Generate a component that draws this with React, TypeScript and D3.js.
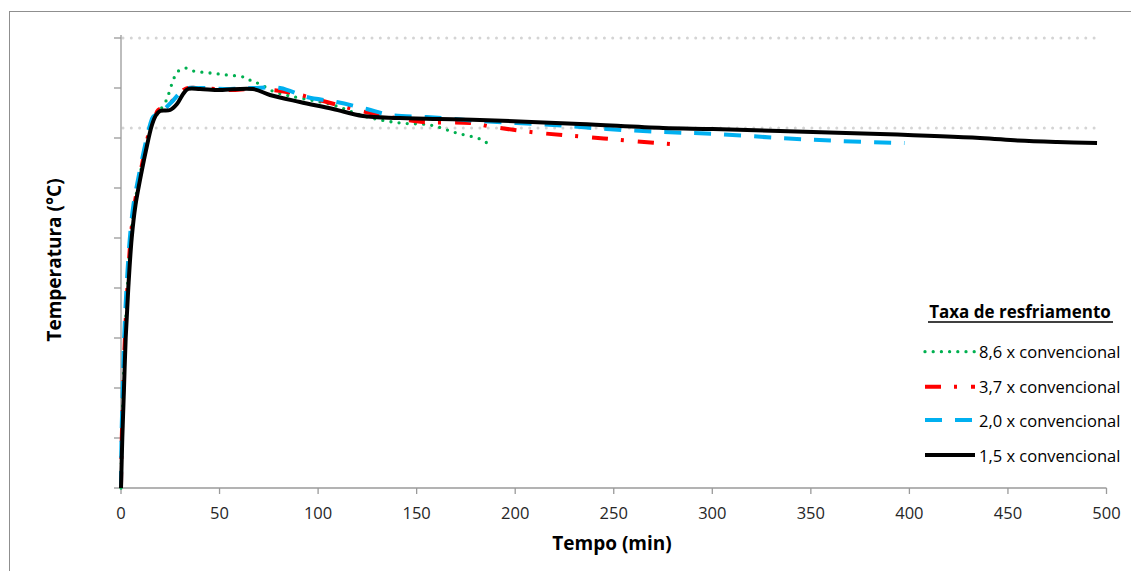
import React from 'react';
import * as d3 from 'd3';

// ---- data ----
const xTicks = [0, 50, 100, 150, 200, 250, 300, 350, 400, 450, 500];
const yTicks = [0, 5, 10, 15, 20, 25, 30, 35, 40, 45];
const refLevels = [45, 36];
const refSpan = [0, 495];

const legendTitle = 'Taxa de resfriamento';
const seriesNames = ['8,6 x convencional', '3,7 x convencional', '2,0 x convencional', '1,5 x convencional'];

const timeG = [0, 0.4, 1.15, 1.98, 3.25, 4.9, 6.85, 9.1, 12.2, 15.2, 18.8, 22.3, 24, 26.5, 28.6, 32.5, 36.7, 45.2, 53.6, 62.1, 66.3, 70.5, 78.1, 107.6, 124.8, 141.6, 156.8, 170.3, 182.1, 185.7];
const tempG = [0, 5, 10, 15, 20, 25, 28.3, 30.8, 33.8, 36.3, 37.5, 38.5, 39.3, 40.8, 41.6, 42.0, 41.7, 41.5, 41.3, 41.1, 40.7, 40.4, 39.6, 38.3, 37.1, 36.5, 36.3, 35.5, 34.9, 34.5];

const timeR = [0, 0.4, 1.15, 1.98, 3.25, 4.9, 6.85, 9.1, 12.2, 15.2, 17.3, 18.9, 22.3, 28.3, 32.5, 40.1, 55.3, 67, 84.1, 104.4, 119.6, 136.5, 153.2, 177.1, 188.7, 212.6, 236.3, 259.8, 285];
const tempR = [0, 5, 10, 15, 20, 25, 28.3, 30.8, 33.8, 36.3, 37.2, 37.8, 38.1, 39.1, 39.9, 40.0, 39.8, 39.9, 39.6, 38.6, 37.8, 37.1, 36.6, 36.5, 36.1, 35.5, 35.1, 34.7, 34.3];

const timeB = [0, 0.25, 0.9, 1.6, 2.8, 4.5, 6.3, 8.6, 11.7, 14.7, 16.2, 18.3, 21.5, 25.7, 32.5, 40.1, 55.3, 67, 80.7, 94.2, 109.4, 124.7, 136.5, 155.1, 182.1, 219.2, 246.4, 275, 302.2, 334.3, 364.8, 397.5];
const tempB = [0, 5, 10, 15, 20, 25, 28.3, 30.8, 33.8, 36.3, 37.1, 37.4, 37.8, 38.6, 39.9, 40.0, 39.9, 40.0, 40.0, 39.1, 38.6, 37.9, 37.3, 37.1, 36.7, 36.3, 35.9, 35.6, 35.4, 35.0, 34.7, 34.5];

const timeK = [0, 0.66, 1.52, 2.38, 3.7, 5.43, 7.36, 9.64, 12.7, 15.7, 17.8, 19.8, 24.9, 28.4, 31.5, 34, 40.1, 50.2, 67, 75.6, 90.8, 107.6, 122.8, 141.6, 182.1, 232.9, 275, 300.4, 334.3, 385.1, 435.8, 455, 475, 495.2];
const tempK = [0, 5, 10, 15, 20, 25, 28.3, 30.8, 33.8, 36.3, 37.3, 37.7, 37.8, 38.4, 39.4, 39.9, 39.9, 39.8, 39.9, 39.3, 38.6, 37.9, 37.2, 37.0, 36.8, 36.4, 36.0, 35.9, 35.7, 35.4, 35.0, 34.75, 34.6, 34.5];

// ---- styles ----
const FONT = '"Open Sans", "DejaVu Sans", sans-serif';
const seriesStyles = [
  { color: '#00b050', width: 3.3, dash: '0 8.2', cap: 'round' },
  { color: '#ff0000', width: 4, dash: '16 13 3 14', cap: 'butt' },
  { color: '#00b0f0', width: 4, dash: '17 13', cap: 'butt' },
  { color: '#000000', width: 4, dash: null, cap: 'butt' },
];

export default function App() {
  const W = 1131;
  const H = 571;
  const x = d3.scaleLinear().domain([0, 500]).range([121, 1106.5]);
  const y = d3.scaleLinear().domain([0, 45]).range([488, 38]);

  const series = [
    timeG.map((t, i) => [t, tempG[i]]),
    timeR.map((t, i) => [t, tempR[i]]),
    timeB.map((t, i) => [t, tempB[i]]),
    timeK.map((t, i) => [t, tempK[i]]),
  ];

  const line = d3
    .line<number[]>()
    .x((d) => x(d[0]))
    .y((d) => y(d[1]))
    .curve(d3.curveCatmullRom.alpha(0.5));

  const axisColor = '#9a9a9a';
  const legendX0 = 925;
  const legendX1 = 975;
  const legendRows = [351.7, 386.7, 420, 455];

  return (
    <svg
      width={W}
      height={H}
      style={{ position: 'absolute', left: 0, top: 0, background: '#fff' }}
      fontFamily={FONT}
    >
      <rect x={0} y={0} width={W} height={H} fill="#fff" />
      {/* outer frame (top & left visible) */}
      <rect x={9.5} y={11.5} width={W + 10} height={H + 10} fill="none" stroke="#8f8f8f" strokeWidth={1} />

      {/* reference dotted lines */}
      {refLevels.map((v) => (
        <line
          key={v}
          x1={x(refSpan[0]) + 2}
          x2={x(refSpan[1])}
          y1={y(v)}
          y2={y(v)}
          stroke="#d4d4d4"
          strokeWidth={3}
          strokeDasharray="0 8.3"
          strokeLinecap="round"
        />
      ))}

      {/* y axis */}
      <line x1={x(0)} x2={x(0)} y1={y(45) - 3} y2={y(0)} stroke={axisColor} strokeWidth={1.3} />
      {yTicks.map((t) => (
        <line key={t} x1={x(0) - 7} x2={x(0)} y1={y(t)} y2={y(t)} stroke={axisColor} strokeWidth={1.3} />
      ))}

      {/* x axis */}
      <line x1={x(0)} x2={x(500)} y1={y(0)} y2={y(0)} stroke={axisColor} strokeWidth={1.3} />
      {xTicks.map((t) => (
        <g key={t}>
          <line x1={x(t)} x2={x(t)} y1={y(0)} y2={y(0) + 6} stroke={axisColor} strokeWidth={1.3} />
          <text x={x(t)} y={519} textAnchor="middle" fontSize={16.5} fill="#262626">
            {t}
          </text>
        </g>
      ))}

      {/* series */}
      {series.map((s, i) => {
        const st = seriesStyles[i];
        return (
          <path
            key={i}
            d={line(s) || ''}
            fill="none"
            stroke={st.color}
            strokeWidth={st.width}
            strokeDasharray={st.dash || undefined}
            strokeLinecap={st.cap as any}
            strokeLinejoin="round"
          />
        );
      })}

      {/* axis titles */}
      <text x={612} y={550} textAnchor="middle" fontSize={19} fontWeight="bold" fill="#000">
        Tempo (min)
      </text>
      <text
        transform={`translate(61,260) rotate(-90)`}
        textAnchor="middle"
        fontSize={19}
        fontWeight="bold"
        fill="#000"
      >
        Temperatura (°C)
      </text>

      {/* legend */}
      <text x={1020} y={318} textAnchor="middle" fontSize={17} fontWeight="bold" fill="#000">
        {legendTitle}
      </text>
      <line x1={928} x2={1113} y1={322} y2={322} stroke="#000" strokeWidth={1.3} />
      {seriesNames.map((name, i) => {
        const st = seriesStyles[i];
        const ly = legendRows[i];
        return (
          <g key={name}>
            <line
              x1={legendX0}
              x2={legendX1}
              y1={ly}
              y2={ly}
              stroke={st.color}
              strokeWidth={st.width}
              strokeDasharray={st.dash || undefined}
              strokeLinecap={st.cap as any}
            />
            <text x={979} y={ly} dominantBaseline="central" fontSize={16.5} fill="#000">
              {name}
            </text>
          </g>
        );
      })}
    </svg>
  );
}
